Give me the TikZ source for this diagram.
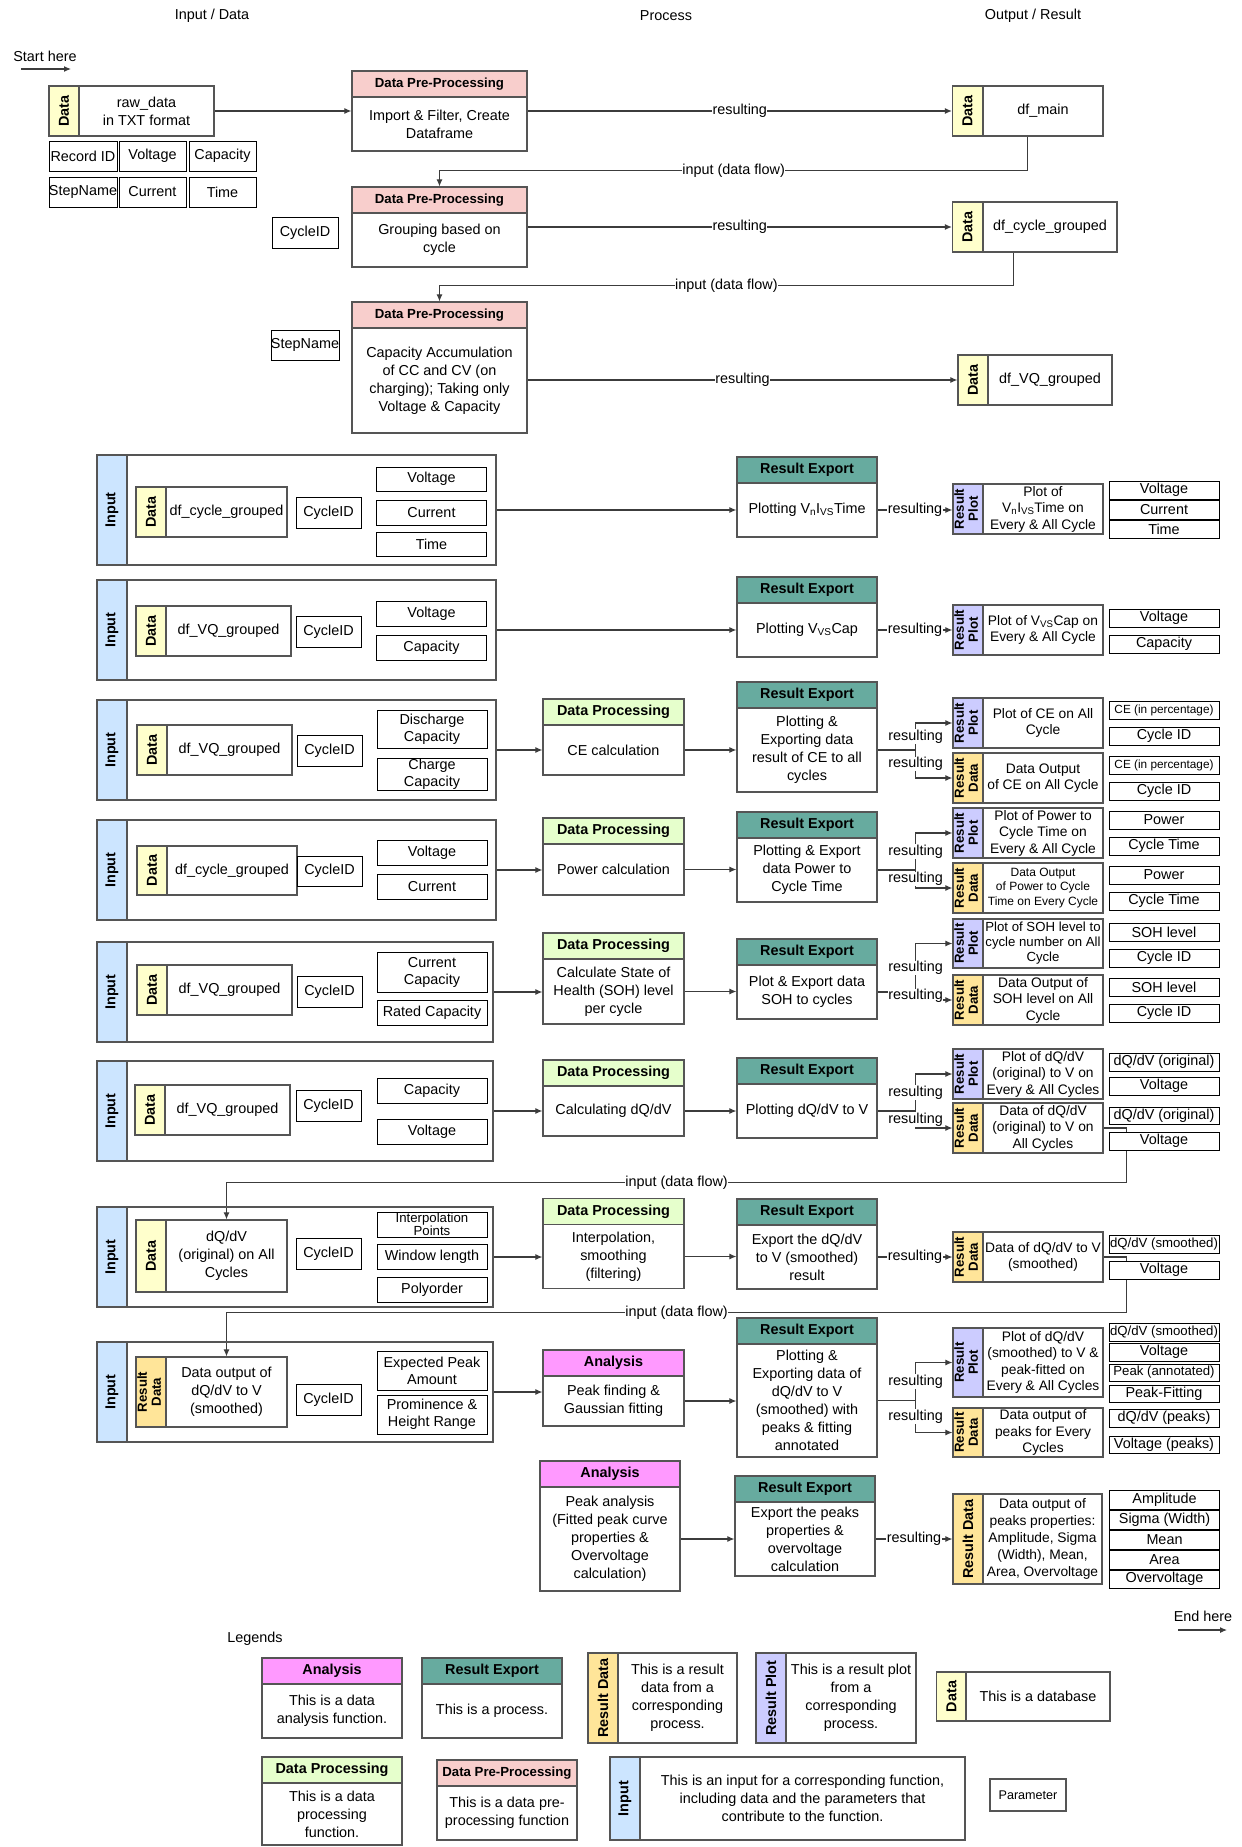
\documentclass[tikz,border=0pt]{standalone}
\usepackage{fontspec}
\setmainfont{Liberation Sans}
\usetikzlibrary{arrows.meta}
\usetikzlibrary{calc}
\usetikzlibrary{backgrounds}
\definecolor{ppfill}{HTML}{F8CECC}
\definecolor{dpfill}{HTML}{E6FFCC}
\definecolor{refill}{HTML}{67AB9F}
\definecolor{anfill}{HTML}{FF99FF}
\definecolor{datafill}{HTML}{FFFFCC}
\definecolor{rdfill}{HTML}{FFE599}
\definecolor{rpfill}{HTML}{CCCCFF}
\definecolor{infill}{HTML}{CCE5FF}
\definecolor{boxline}{HTML}{555555}
\definecolor{linkline}{HTML}{3C3C3C}

\begin{document}
\begin{tikzpicture}
	[x=1pt, y=-1pt,
	> = {Latex[length=7pt,width=6pt]},
	every node/.style = {font=\fontsize{14.4}{18}\selectfont, align=center, inner sep=1pt},
	hdr/.style = {draw=boxline, line width=1.2pt, minimum height=26pt, font=\bfseries\fontsize{14.4}{17}\selectfont},
	pphdr/.style = {hdr, fill=ppfill, font=\bfseries\fontsize{13.2}{15}\selectfont},
	dphdr/.style = {hdr, fill=dpfill},
	rehdr/.style = {hdr, fill=refill},
	anhdr/.style = {hdr, fill=anfill},
	body/.style = {draw=boxline, fill=white, line width=1.2pt},
	strip/.style = {draw=boxline, line width=1.2pt, minimum width=30pt, inner sep=0pt, font=\bfseries\fontsize{14.4}{17}\selectfont},
	strip2/.style = {strip, font=\bfseries\fontsize{13.2}{14}\selectfont},
	param/.style = {draw=black, fill=white, line width=0.9pt, inner sep=0pt, minimum width=110pt, font=\fontsize{14.4}{17}\selectfont},
	cont/.style = {draw=boxline, line width=1.2pt},
	link/.style = {->, draw=linkline, line width=1.1pt},
	lbl/.style = {fill=white, inner sep=0.5pt},
	res/.style = {font=\fontsize{13.8}{16.5}\selectfont},
	small/.style = {font=\fontsize{11.8}{13}\selectfont},
	mid/.style = {font=\fontsize{13.2}{15}\selectfont}
	]
	\useasboundingbox (0,0) rectangle (1242,1847);

	% column titles
	\node (colin) at (212,16) {Input / Data};
	\node (colproc) at (666,16) {Process};
	\node (colout) at (1033,16) {Output / Result};
	\node (starttxt) at (45,56) {Start here};
	\coordinate (start1) at (21,69);
	\coordinate (start2) at (71,69);
	\node (endtxt) at (1203,1616) {End here};
	\coordinate (end1) at (1178,1630);
	\coordinate (end2) at (1227,1630);

	% raw data
	\node[strip, fill=datafill, minimum height=50pt] (rawS) at (64,111) {\rotatebox{90}{Data}};
	\node[body, minimum width=135pt, minimum height=50pt] (rawC) at (146.5,111) {raw\_data\\in TXT format};
	\node[param, minimum width=68pt, minimum height=30pt] (precid) at (83,156) {Record ID};
	\node[param, minimum width=67pt, minimum height=30pt] (pvolt) at (152.5,156) {Voltage};
	\node[param, minimum width=67pt, minimum height=30pt] (pcap) at (222.5,156) {Capacity};
	\node[param, minimum width=68pt, minimum height=30pt] (pstep) at (83,192) {StepName};
	\node[param, minimum width=67pt, minimum height=30pt] (pcur) at (152.5,192) {Current};
	\node[param, minimum width=67pt, minimum height=30pt] (ptime) at (222.5,192) {Time};

	% pre-processing
	\node[pphdr, minimum width=175pt] (pp1h) at (439.5,84) {Data Pre-Processing};
	\node[body, minimum width=175pt, minimum height=54pt] (pp1b) at (439.5,124) {Import \& Filter, Create\\Dataframe};
	\node[pphdr, minimum width=175pt] (pp2h) at (439.5,200) {Data Pre-Processing};
	\node[body, minimum width=175pt, minimum height=54pt] (pp2b) at (439.5,240) {Grouping based on\\cycle};
	\node[param, minimum width=66pt, minimum height=31pt] (pcyc0) at (305,232.5) {CycleID};
	\node[pphdr, minimum width=175pt] (pp3h) at (439.5,315) {Data Pre-Processing};
	\node[body, minimum width=175pt, minimum height=105pt] (pp3b) at (439.5,380.5) {Capacity Accumulation\\of CC and CV (on\\charging); Taking only\\Voltage \& Capacity};
	\node[param, minimum width=66pt, minimum height=30pt] (pstep0) at (305,345) {StepName};

	% dataframes
	\node[strip, fill=datafill, minimum height=50pt] (dfmainS) at (967.5,111) {\rotatebox{90}{Data}};
	\node[body, minimum width=120pt, minimum height=50pt] (dfmainC) at (1043,111) {df\_main};
	\node[strip, fill=datafill, minimum height=50pt] (dfcycS) at (967.5,227) {\rotatebox{90}{Data}};
	\node[body, minimum width=134pt, minimum height=50pt] (dfcycC) at (1050,227) {df\_cycle\_grouped};
	\node[strip, fill=datafill, minimum height=50pt] (dfvqS) at (973,380) {\rotatebox{90}{Data}};
	\node[body, minimum width=124pt, minimum height=50pt] (dfvqC) at (1050,380) {df\_VQ\_grouped};

	% row 1: V, I vs time
	\node[strip, fill=infill, minimum height=110pt] (in1S) at (112,510) {\rotatebox{90}{Input}};
	\node[cont, minimum width=369pt, minimum height=110pt] (in1C) at (311.5,510) {};
	\node[strip, fill=datafill, minimum height=50pt] (d1S) at (151,512) {\rotatebox{90}{Data}};
	\node[body, minimum width=121pt, minimum height=50pt] (d1C) at (226.5,512) {df\_cycle\_grouped};
	\node[param, minimum width=65pt, minimum height=31pt] (c1) at (328.5,512.5) {CycleID};
	\node[param, minimum height=24pt] (p1a) at (431.5,479) {Voltage};
	\node[param, minimum height=25pt] (p1b) at (431.5,512.5) {Current};
	\node[param, minimum height=24pt] (p1c) at (431.5,544) {Time};
	\node[rehdr, minimum width=140pt] (re1h) at (807,470) {Result Export};
	\node[body, minimum width=140pt, minimum height=54pt] (re1b) at (807,510) {Plotting V\textsubscript{n}I\textsubscript{VS}Time};
	\node[strip2, fill=rpfill, minimum height=50pt] (rp1S) at (968,509) {\rotatebox{90}{\begin{tabular}{@{}c@{}}Result\\Plot\end{tabular}}};
	\node[body, res, minimum width=120pt, minimum height=50pt] (rp1C) at (1043,509) {Plot of\\V\textsubscript{n}I\textsubscript{VS}Time on\\Every \& All Cycle};
	\node[param, minimum height=18pt] (o1a) at (1164,490) {Voltage};
	\node[param, minimum height=19pt] (o1b) at (1164,509.5) {Current};
	\node[param, minimum height=18pt] (o1c) at (1164,529) {Time};

	% row 2: V vs capacity
	\node[strip, fill=infill, minimum height=100pt] (in2S) at (112,630) {\rotatebox{90}{Input}};
	\node[cont, minimum width=369pt, minimum height=100pt] (in2C) at (311.5,630) {};
	\node[strip, fill=datafill, minimum height=50pt] (d2S) at (151,631) {\rotatebox{90}{Data}};
	\node[body, minimum width=125pt, minimum height=50pt] (d2C) at (228.5,631) {df\_VQ\_grouped};
	\node[param, minimum width=65pt, minimum height=31pt] (c2) at (328.5,631.5) {CycleID};
	\node[param, minimum height=25pt] (p2a) at (431.5,613.5) {Voltage};
	\node[param, minimum height=25pt] (p2b) at (431.5,647.5) {Capacity};
	\node[rehdr, minimum width=140pt] (re2h) at (807,590) {Result Export};
	\node[body, minimum width=140pt, minimum height=54pt] (re2b) at (807,630) {Plotting V\textsubscript{VS}Cap};
	\node[strip2, fill=rpfill, minimum height=50pt] (rp2S) at (968,630) {\rotatebox{90}{\begin{tabular}{@{}c@{}}Result\\Plot\end{tabular}}};
	\node[body, res, minimum width=120pt, minimum height=50pt] (rp2C) at (1043,630) {Plot of V\textsubscript{VS}Cap on\\Every \& All Cycle};
	\node[param, minimum height=18pt] (o2a) at (1164,618) {Voltage};
	\node[param, minimum height=18pt] (o2b) at (1164,644) {Capacity};

	% row 3: CE
	\node[strip, fill=infill, minimum height=100pt] (in3S) at (112,750) {\rotatebox{90}{Input}};
	\node[cont, minimum width=369pt, minimum height=100pt] (in3C) at (311.5,750) {};
	\node[strip, fill=datafill, minimum height=50pt] (d3S) at (152,750) {\rotatebox{90}{Data}};
	\node[body, minimum width=125pt, minimum height=50pt] (d3C) at (229.5,750) {df\_VQ\_grouped};
	\node[param, minimum width=65pt, minimum height=31pt] (c3) at (329.5,750.5) {CycleID};
	\node[param, minimum height=38pt] (p3a) at (432,729) {Discharge\\Capacity};
	\node[param, minimum height=32pt] (p3b) at (432,774) {Charge\\Capacity};
	\node[dphdr, minimum width=141pt] (dp3h) at (613.5,712) {Data Processing};
	\node[body, minimum width=141pt, minimum height=50pt] (dp3b) at (613.5,750) {CE calculation};
	\node[rehdr, minimum width=140pt] (re3h) at (807,695) {Result Export};
	\node[body, minimum width=140pt, minimum height=84pt] (re3b) at (807,750) {Plotting \&\\Exporting data\\result of CE to all\\cycles};
	\node[strip2, fill=rpfill, minimum height=50pt] (rp3S) at (968,723) {\rotatebox{90}{\begin{tabular}{@{}c@{}}Result\\Plot\end{tabular}}};
	\node[body, res, minimum width=120pt, minimum height=50pt] (rp3C) at (1043,723) {Plot of CE on All\\Cycle};
	\node[strip2, fill=rdfill, minimum height=50pt] (rd3S) at (968,778) {\rotatebox{90}{\begin{tabular}{@{}c@{}}Result\\Data\end{tabular}}};
	\node[body, res, minimum width=120pt, minimum height=50pt] (rd3C) at (1043,778) {Data Output\\of CE on All Cycle};
	\node[param, small, minimum height=18pt] (o3a) at (1164,710) {CE (in percentage)};
	\node[param, minimum height=18pt] (o3b) at (1164,736) {Cycle ID};
	\node[param, small, minimum height=18pt] (o3c) at (1164,765) {CE (in percentage)};
	\node[param, minimum height=18pt] (o3d) at (1164,791) {Cycle ID};

	% row 4: power
	\node[strip, fill=infill, minimum height=100pt] (in4S) at (112,870) {\rotatebox{90}{Input}};
	\node[cont, minimum width=369pt, minimum height=100pt] (in4C) at (311.5,870) {};
	\node[strip, fill=datafill, minimum height=49pt] (d4S) at (152,870.5) {\rotatebox{90}{Data}};
	\node[body, minimum width=130pt, minimum height=49pt] (d4C) at (232,870.5) {df\_cycle\_grouped};
	\node[param, minimum width=65pt, minimum height=30pt] (c4) at (329.5,871) {CycleID};
	\node[param, minimum height=25pt] (p4a) at (432,852.5) {Voltage};
	\node[param, minimum height=25pt] (p4b) at (432,886.5) {Current};
	\node[dphdr, minimum width=141pt] (dp4h) at (613.5,831) {Data Processing};
	\node[body, minimum width=141pt, minimum height=51pt] (dp4b) at (613.5,869.5) {Power calculation};
	\node[rehdr, minimum width=140pt] (re4h) at (807,825) {Result Export};
	\node[body, minimum width=140pt, minimum height=64pt] (re4b) at (807,870) {Plotting \& Export\\data Power to\\Cycle Time};
	\node[strip2, fill=rpfill, minimum height=50pt] (rp4S) at (968,833) {\rotatebox{90}{\begin{tabular}{@{}c@{}}Result\\Plot\end{tabular}}};
	\node[body, res, minimum width=120pt, minimum height=50pt] (rp4C) at (1043,833) {Plot of Power to\\Cycle Time on\\Every \& All Cycle};
	\node[strip2, fill=rdfill, minimum height=50pt] (rd4S) at (968,888) {\rotatebox{90}{\begin{tabular}{@{}c@{}}Result\\Data\end{tabular}}};
	\node[body, minimum width=120pt, minimum height=50pt, font=\fontsize{12}{14.5}\selectfont] (rd4C) at (1043,888) {Data Output\\of Power to Cycle\\Time on Every Cycle};
	\node[param, minimum height=18pt] (o4a) at (1164,820) {Power};
	\node[param, minimum height=18pt] (o4b) at (1164,846) {Cycle Time};
	\node[param, minimum height=18pt] (o4c) at (1164,875) {Power};
	\node[param, minimum height=18pt] (o4d) at (1164,901) {Cycle Time};

	% row 5: SOH
	\node[strip, fill=infill, minimum height=100pt] (in5S) at (112,992) {\rotatebox{90}{Input}};
	\node[cont, minimum width=366pt, minimum height=100pt] (in5C) at (310,992) {};
	\node[strip, fill=datafill, minimum height=50pt] (d5S) at (152,990) {\rotatebox{90}{Data}};
	\node[body, minimum width=125pt, minimum height=50pt] (d5C) at (229.5,990) {df\_VQ\_grouped};
	\node[param, minimum width=65pt, minimum height=31pt] (c5) at (329.5,991.5) {CycleID};
	\node[param, minimum height=40pt] (p5a) at (432,972) {Current\\Capacity};
	\node[param, minimum height=25pt] (p5b) at (432,1012.5) {Rated Capacity};
	\node[dphdr, minimum width=141pt] (dp5h) at (613.5,946) {Data Processing};
	\node[body, minimum width=141pt, minimum height=65pt] (dp5b) at (613.5,991.5) {Calculate State of\\Health (SOH) level\\per cycle};
	\node[rehdr, minimum width=140pt] (re5h) at (807,952) {Result Export};
	\node[body, minimum width=140pt, minimum height=54pt] (re5b) at (807,992) {Plot \& Export data\\SOH to cycles};
	\node[strip2, fill=rpfill, minimum height=49pt] (rp5S) at (968,943.5) {\rotatebox{90}{\begin{tabular}{@{}c@{}}Result\\Plot\end{tabular}}};
	\node[body, mid, minimum width=120pt, minimum height=49pt] (rp5C) at (1043,943.5) {Plot of SOH level to\\cycle number on All\\Cycle};
	\node[strip2, fill=rdfill, minimum height=50pt] (rd5S) at (968,1000) {\rotatebox{90}{\begin{tabular}{@{}c@{}}Result\\Data\end{tabular}}};
	\node[body, res, minimum width=120pt, minimum height=50pt] (rd5C) at (1043,1000) {Data Output of\\SOH level on All\\Cycle};
	\node[param, minimum height=18pt] (o5a) at (1164,932) {SOH level};
	\node[param, minimum height=18pt] (o5b) at (1164,958) {Cycle ID};
	\node[param, minimum height=18pt] (o5c) at (1164,987) {SOH level};
	\node[param, minimum height=18pt] (o5d) at (1164,1013) {Cycle ID};

	% row 6: dQ/dV
	\node[strip, fill=infill, minimum height=100pt] (in6S) at (112,1111) {\rotatebox{90}{Input}};
	\node[cont, minimum width=366pt, minimum height=100pt] (in6C) at (310,1111) {};
	\node[strip, fill=datafill, minimum height=50pt] (d6S) at (150,1110) {\rotatebox{90}{Data}};
	\node[body, minimum width=125pt, minimum height=50pt] (d6C) at (227.5,1110) {df\_VQ\_grouped};
	\node[param, minimum width=65pt, minimum height=31pt] (c6) at (328.5,1105.5) {CycleID};
	\node[param, minimum height=25pt] (p6a) at (432,1090.5) {Capacity};
	\node[param, minimum height=25pt] (p6b) at (432,1131.5) {Voltage};
	\node[dphdr, minimum width=141pt] (dp6h) at (613.5,1073) {Data Processing};
	\node[body, minimum width=141pt, minimum height=50pt] (dp6b) at (613.5,1111) {Calculating dQ/dV};
	\node[rehdr, minimum width=140pt] (re6h) at (807,1071) {Result Export};
	\node[body, minimum width=140pt, minimum height=54pt] (re6b) at (807,1111) {Plotting dQ/dV to V};
	\node[strip2, fill=rpfill, minimum height=50pt] (rp6S) at (968,1074) {\rotatebox{90}{\begin{tabular}{@{}c@{}}Result\\Plot\end{tabular}}};
	\node[body, res, minimum width=120pt, minimum height=50pt] (rp6C) at (1043,1074) {Plot of dQ/dV\\(original) to V on\\Every \& All Cycles};
	\node[strip2, fill=rdfill, minimum height=50pt] (rd6S) at (968,1128) {\rotatebox{90}{\begin{tabular}{@{}c@{}}Result\\Data\end{tabular}}};
	\node[body, res, minimum width=120pt, minimum height=50pt] (rd6C) at (1043,1128) {Data of dQ/dV\\(original) to V on\\All Cycles};
	\node[param, minimum height=18pt] (o6a) at (1164,1062) {dQ/dV (original)};
	\node[param, minimum height=18pt] (o6b) at (1164,1086) {Voltage};
	\node[param, minimum height=17pt] (o6c) at (1164,1115.5) {dQ/dV (original)};
	\node[param, minimum height=18pt] (o6d) at (1164,1141) {Voltage};

	% row 7: smoothing
	\node[strip, fill=infill, minimum height=100pt] (in7S) at (112,1257) {\rotatebox{90}{Input}};
	\node[cont, minimum width=366pt, minimum height=100pt] (in7C) at (310,1257) {};
	\node[strip, fill=datafill, minimum height=72pt] (d7S) at (151,1256) {\rotatebox{90}{Data}};
	\node[body, minimum width=121pt, minimum height=72pt] (d7C) at (226.5,1256) {dQ/dV\\(original) on All\\Cycles};
	\node[param, minimum width=65pt, minimum height=31pt] (c7) at (328.5,1253.5) {CycleID};
	\node[param, minimum height=25pt, font=\fontsize{13.2}{13.5}\selectfont] (p7a) at (432,1224.5) {Interpolation\\Points};
	\node[param, minimum height=25pt] (p7b) at (432,1256.5) {Window length};
	\node[param, minimum height=25pt] (p7c) at (432,1289.5) {Polyorder};
	\node[dphdr, minimum width=141pt] (dp7h) at (613.5,1211.5) {Data Processing};
	\node[body, minimum width=141pt, minimum height=64pt] (dp7b) at (613.5,1256.5) {Interpolation,\\smoothing\\(filtering)};
	\node[rehdr, minimum width=140pt] (re7h) at (807,1212) {Result Export};
	\node[body, minimum width=140pt, minimum height=64pt] (re7b) at (807,1257) {Export the dQ/dV\\to V (smoothed)\\result};
	\node[strip2, fill=rdfill, minimum height=50pt] (rd7S) at (968,1257) {\rotatebox{90}{\begin{tabular}{@{}c@{}}Result\\Data\end{tabular}}};
	\node[body, res, minimum width=120pt, minimum height=50pt] (rd7C) at (1043,1257) {Data of dQ/dV to V\\(smoothed)};
	\node[param, mid, minimum height=18pt] (o7a) at (1164,1244) {dQ/dV (smoothed)};
	\node[param, minimum height=18pt] (o7b) at (1164,1270) {Voltage};

	% row 8: peak fitting
	\node[strip, fill=infill, minimum height=100pt] (in8S) at (112,1392) {\rotatebox{90}{Input}};
	\node[cont, minimum width=366pt, minimum height=100pt] (in8C) at (310,1392) {};
	\node[strip2, fill=rdfill, minimum height=70pt] (d8S) at (151,1392) {\rotatebox{90}{\begin{tabular}{@{}c@{}}Result\\Data\end{tabular}}};
	\node[body, minimum width=121pt, minimum height=70pt] (d8C) at (226.5,1392) {Data output of\\dQ/dV to V\\(smoothed)};
	\node[param, minimum width=65pt, minimum height=31pt] (c8) at (328.5,1399.5) {CycleID};
	\node[param, minimum height=39pt] (p8a) at (432,1370.5) {Expected Peak\\Amount};
	\node[param, minimum height=39pt] (p8b) at (432,1414.5) {Prominence \&\\Height Range};
	\node[anhdr, minimum width=141pt] (an1h) at (613.5,1363) {Analysis};
	\node[body, minimum width=141pt, minimum height=50pt] (an1b) at (613.5,1401) {Peak finding \&\\Gaussian fitting};
	\node[rehdr, minimum width=140pt] (re8h) at (807,1331) {Result Export};
	\node[body, minimum width=140pt, minimum height=113pt] (re8b) at (807,1400.5) {Plotting \&\\Exporting data of\\dQ/dV to V\\(smoothed) with\\peaks \& fitting\\annotated};
	\node[strip2, fill=rpfill, minimum height=69pt] (rp8S) at (968,1362.5) {\rotatebox{90}{\begin{tabular}{@{}c@{}}Result\\Plot\end{tabular}}};
	\node[body, res, minimum width=120pt, minimum height=69pt] (rp8C) at (1043,1362.5) {Plot of dQ/dV\\(smoothed) to V \&\\peak-fitted on\\Every \& All Cycles};
	\node[strip2, fill=rdfill, minimum height=49pt] (rd8S) at (968,1432.5) {\rotatebox{90}{\begin{tabular}{@{}c@{}}Result\\Data\end{tabular}}};
	\node[body, res, minimum width=120pt, minimum height=49pt] (rd8C) at (1043,1432.5) {Data output of\\peaks for Every\\Cycles};
	\node[param, mid, minimum height=18pt] (o8a) at (1164,1332) {dQ/dV (smoothed)};
	\node[param, minimum height=18pt] (o8b) at (1164,1352) {Voltage};
	\node[param, mid, minimum height=17pt] (o8c) at (1164,1372.5) {Peak (annotated)};
	\node[param, minimum height=17pt] (o8d) at (1164,1393.5) {Peak-Fitting};
	\node[param, minimum height=18pt] (o8e) at (1164,1418) {dQ/dV (peaks)};
	\node[param, minimum height=17pt] (o8f) at (1164,1444.5) {Voltage (peaks)};

	% row 9: peak analysis
	\node[anhdr, minimum width=140pt] (an2h) at (610,1474) {Analysis};
	\node[body, minimum width=140pt, minimum height=104pt] (an2b) at (610,1539) {Peak analysis\\(Fitted peak curve\\properties \&\\Overvoltage\\calculation)};
	\node[rehdr, minimum width=140pt] (re9h) at (805,1489) {Result Export};
	\node[body, minimum width=140pt, minimum height=74pt] (re9b) at (805,1539) {Export the peaks\\properties \&\\overvoltage\\calculation};
	\node[strip, fill=rdfill, minimum height=90pt] (rd9S) at (968,1539) {\rotatebox{90}{Result Data}};
	\node[body, minimum width=119pt, minimum height=90pt, font=\fontsize{13.8}{16.8}\selectfont] (rd9C) at (1042.5,1539) {Data output of\\peaks properties:\\Amplitude, Sigma\\(Width), Mean,\\Area, Overvoltage};
	\node[param, minimum height=19pt] (o9a) at (1164.5,1499.5) {Amplitude};
	\node[param, minimum height=19pt] (o9b) at (1164.5,1519.5) {Sigma (Width)};
	\node[param, minimum height=19pt] (o9c) at (1164.5,1539.5) {Mean};
	\node[param, minimum height=19pt] (o9d) at (1164.5,1559.5) {Area};
	\node[param, minimum height=18pt] (o9e) at (1164.5,1579) {Overvoltage};

	% legends
	\node (legtxt) at (255,1639) {Legends};
	\node[anhdr, minimum width=140pt] (lanh) at (332,1671) {Analysis};
	\node[body, minimum width=140pt, minimum height=54pt] (lanb) at (332,1711) {This is a data\\analysis function.};
	\node[rehdr, minimum width=140pt] (lreh) at (492,1671) {Result Export};
	\node[body, minimum width=140pt, minimum height=54pt] (lreb) at (492,1711) {This is a process.};
	\node[strip, fill=rdfill, minimum height=90pt] (lrdS) at (603,1698) {\rotatebox{90}{Result Data}};
	\node[body, minimum width=119pt, minimum height=90pt] (lrdC) at (677.5,1698) {This is a result\\data from a\\corresponding\\process.};
	\node[strip, fill=rpfill, minimum height=90pt] (lrpS) at (771,1698) {\rotatebox{90}{Result Plot}};
	\node[body, minimum width=130pt, minimum height=90pt] (lrpC) at (851,1698) {This is a result plot\\from a\\corresponding\\process.};
	\node[strip, fill=datafill, minimum height=49pt] (ldS) at (951.5,1696.5) {\rotatebox{90}{Data}};
	\node[body, minimum width=144pt, minimum height=49pt] (ldC) at (1038,1696.5) {This is a database};
	\node[dphdr, minimum width=140pt] (ldph) at (332,1770) {Data Processing};
	\node[body, minimum width=140pt, minimum height=62pt] (ldpb) at (332,1814) {This is a data\\processing\\function.};
	\node[pphdr, minimum width=140pt] (lpph) at (507,1773) {Data Pre-Processing};
	\node[body, minimum width=140pt, minimum height=54pt] (lppb) at (507,1813) {This is a data pre-\\processing function};
	\node[strip, fill=infill, minimum height=83pt] (linS) at (625,1798.5) {\rotatebox{90}{Input}};
	\node[body, minimum width=325pt, minimum height=83pt] (linC) at (802.5,1798.5) {This is an input for a corresponding function,\\including data and the parameters that\\contribute to the function.};
	\node[param, draw=boxline, line width=1.2pt, minimum width=76pt, minimum height=32pt, font=\fontsize{12.6}{14}\selectfont] (lpar) at (1028,1795) {Parameter};

	% connectors
	\begin{pgfonlayer}{background}
	\fill[white] (0,0) rectangle (1242,1847);
	\draw[link] (start1) -- (start2);
	\draw[link] (end1) -- (end2);
	\draw[link] (rawC.east) -- (rawC.east -| pp1b.west);
	\draw[link] (pp1b.east |- dfmainS.west) -- (dfmainS.west) node[lbl, midway] {resulting};
	\draw[link] ($(dfmainS.south west)!.5!(dfmainC.south east)$) -- ++(0,34) -| (pp2h.north) node[lbl, pos=.25] {input (data flow)};
	\draw[link] (pp2b.east |- dfcycS.west) -- (dfcycS.west) node[lbl, midway] {resulting};
	\draw[link] ($(dfcycS.south west)!.37!(dfcycC.south east)$) -- ++(0,33) -| (pp3h.north) node[lbl, pos=.25] {input (data flow)};
	\draw[link] (pp3b.east |- dfvqS.west) -- (dfvqS.west) node[lbl, midway] {resulting};

	\draw[link] (in1C.east) -- (in1C.east -| re1b.west);
	\draw[link] (re1b.east) -- (re1b.east -| rp1S.west) node[lbl, midway] {resulting};
	\draw[link] (in2C.east) -- (in2C.east -| re2b.west);
	\draw[link] (re2b.east) -- (re2b.east -| rp2S.west) node[lbl, midway] {resulting};

	\draw[link] (in3C.east) -- (in3C.east -| dp3b.west);
	\draw[link] (dp3b.east) -- (dp3b.east -| re3b.west);
	\draw[link] (re3b.east) -- ++(38,0) |- (rp3S.west) node[lbl, pos=.25] {resulting};
	\draw[link] (re3b.east) -- ++(38,0) |- (rd3S.west) node[lbl, pos=.25] {resulting};

	\draw[link] (in4C.east) -- (in4C.east -| dp4b.west);
	\draw[link] (dp4b.east) -- (dp4b.east -| re4b.west);
	\draw[link] (re4b.east) -- ++(38,0) |- (rp4S.west) node[lbl, pos=.25] {resulting};
	\draw[link] (re4b.east) -- ++(38,0) |- (rd4S.west) node[lbl, pos=.25] {resulting};

	\draw[link] (in5C.east) -- (in5C.east -| dp5b.west);
	\draw[link] (dp5b.east) -- (dp5b.east -| re5b.west);
	\draw[link] (re5b.east) -- ++(38,0) |- (rp5S.west) node[lbl, pos=.25] {resulting};
	\draw[link] (re5b.east) -- ++(38,0) |- (rd5S.west) node[lbl, pos=.25] {resulting};

	\draw[link] (in6C.east) -- (in6C.east -| dp6b.west);
	\draw[link] (dp6b.east) -- (dp6b.east -| re6b.west);
	\draw[link] (re6b.east) -- ++(38,0) |- (rp6S.west) node[lbl, pos=.25] {resulting};
	\draw[link] (re6b.east) -- ++(38,0) |- (rd6S.west) node[lbl, pos=.25] {resulting};
	\draw[link] (rd6C.east) -- ++(23,0) |- ($(d7C.north)+(0,-37)$) node[lbl, pos=.75] {input (data flow)} -- (d7C.north);

	\draw[link] (in7C.east) -- (in7C.east -| dp7b.west);
	\draw[link] (dp7b.east) -- (dp7b.east -| re7b.west);
	\draw[link] (re7b.east) -- (re7b.east -| rd7S.west) node[lbl, midway] {resulting};
	\draw[link] (rd7C.east) -- ++(23,0) |- ($(d8C.north)+(0,-44)$) node[lbl, pos=.75] {input (data flow)} -- (d8C.north);

	\draw[link] (in8C.east) -- (in8C.east -| an1b.west);
	\draw[link] (an1b.east) -- (an1b.east -| re8b.west);
	\draw[link] (re8b.east) -- ++(38,0) |- (rp8S.west) node[lbl, pos=.25] {resulting};
	\draw[link] (re8b.east) -- ++(38,0) |- (rd8S.west) node[lbl, pos=.25] {resulting};

	\draw[link] (an2b.east) -- (an2b.east -| re9b.west);
	\draw[link] (re9b.east) -- (re9b.east -| rd9S.west) node[lbl, midway] {resulting};
	\end{pgfonlayer}
\end{tikzpicture}
\end{document}
